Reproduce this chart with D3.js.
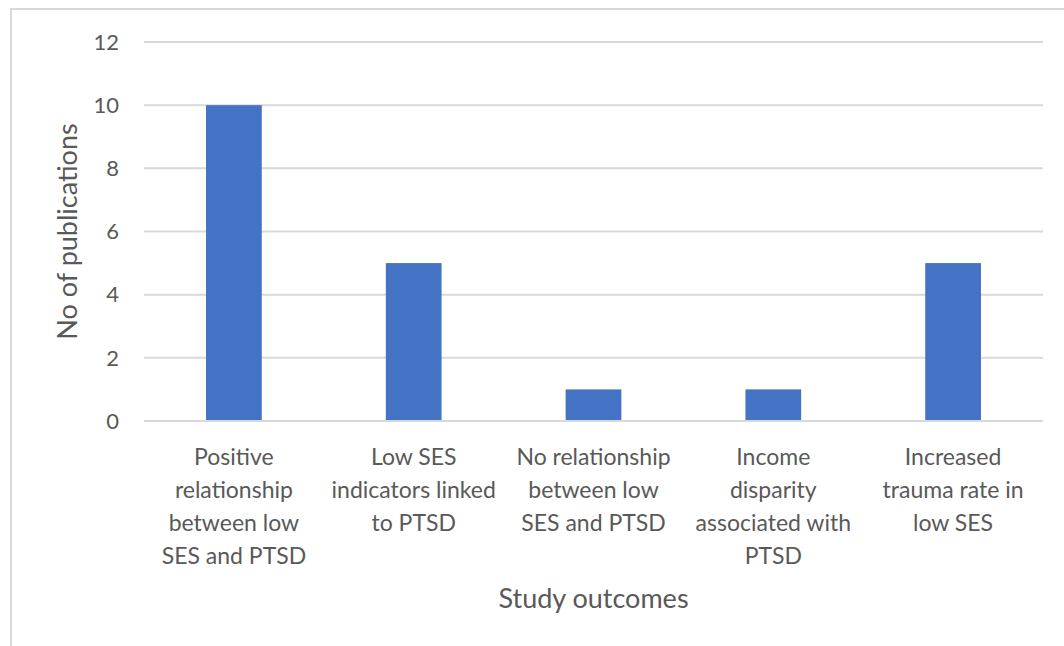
<!DOCTYPE html>
<html>
<head>
<meta charset="utf-8">
<script src="https://cdn.jsdelivr.net/npm/d3@7"></script>
<style>
  html, body { margin: 0; padding: 0; background: #fff; }
  svg { display: block; }
  text { font-family: Lato, "Open Sans", sans-serif; fill: #595959; }
</style>
</head>
<body>
<svg id="chart" width="1064" height="646"></svg>
<script>
// Study outcome categories (each split into the wrapped lines shown under the axis)
const categories = [
  "Positive relationship between low SES and PTSD",
  "Low SES indicators linked to PTSD",
  "No relationship between low SES and PTSD",
  "Income disparity associated with PTSD",
  "Increased trauma rate in low SES"
];
const categoryLines = [
  ["Positive", "relationship", "between low", "SES and PTSD"],
  ["Low SES", "indicators linked", "to PTSD"],
  ["No relationship", "between low", "SES and PTSD"],
  ["Income", "disparity", "associated with", "PTSD"],
  ["Increased", "trauma rate in", "low SES"]
];
const publications = [10, 5, 1, 1, 5];
const yTicks = [0, 2, 4, 6, 8, 10, 12];

const svg = d3.select("#chart");
const W = 1064, H = 646;

// outer frame (left and top edges visible)
svg.append("line").attr("x1", 11).attr("x2", 11).attr("y1", 9).attr("y2", H)
  .attr("stroke", "#d9d9d9").attr("stroke-width", 2);
svg.append("line").attr("x1", 10).attr("x2", W).attr("y1", 9).attr("y2", 9)
  .attr("stroke", "#d9d9d9").attr("stroke-width", 2);

const plot = { left: 144, right: 1043, top: 42, bottom: 421 };

const x = d3.scaleBand()
  .domain(categories)
  .range([plot.left, plot.right])
  .paddingInner(0.69)
  .paddingOuter(0.345);

const y = d3.scaleLinear().domain([0, 12]).range([plot.bottom, plot.top]);

// horizontal gridlines
svg.append("g")
  .selectAll("line")
  .data(yTicks)
  .join("line")
  .attr("x1", plot.left).attr("x2", plot.right)
  .attr("y1", d => y(d)).attr("y2", d => y(d))
  .attr("stroke", "#d9d9d9").attr("stroke-width", 2);

// y tick labels
svg.append("g")
  .selectAll("text")
  .data(yTicks)
  .join("text")
  .attr("x", 119)
  .attr("y", d => y(d))
  .attr("dy", "0.35em")
  .attr("text-anchor", "end")
  .style("font-size", "22px")
  .text(d => d);

// bars
svg.append("g")
  .selectAll("rect")
  .data(publications)
  .join("rect")
  .attr("x", (d, i) => x(categories[i]))
  .attr("width", x.bandwidth())
  .attr("y", d => y(d))
  .attr("height", d => y(0) - y(d))
  .attr("fill", "#4472c4");

// baseline drawn over bars
svg.append("line")
  .attr("x1", plot.left).attr("x2", plot.right)
  .attr("y1", y(0)).attr("y2", y(0))
  .attr("stroke", "#d9d9d9").attr("stroke-width", 2);

// category labels
const catG = svg.append("g");
categories.forEach((c, i) => {
  const cx = x(c) + x.bandwidth() / 2;
  const t = catG.append("text")
    .attr("x", cx)
    .attr("y", 457)
    .attr("text-anchor", "middle")
    .style("font-size", "23px");
  categoryLines[i].forEach((line, j) => {
    t.append("tspan").attr("x", cx).attr("dy", j === 0 ? "0.35em" : "1.43em").text(line);
  });
});

// axis titles
svg.append("text")
  .attr("x", (plot.left + plot.right) / 2)
  .attr("y", 599)
  .attr("dy", "0.35em")
  .attr("text-anchor", "middle")
  .style("font-size", "27px")
  .text("Study outcomes");

svg.append("text")
  .attr("transform", `translate(68,${(plot.top + plot.bottom) / 2}) rotate(-90)`)
  .attr("dy", "0.35em")
  .attr("text-anchor", "middle")
  .style("font-size", "27px")
  .text("No of publications");
</script>
</body>
</html>
